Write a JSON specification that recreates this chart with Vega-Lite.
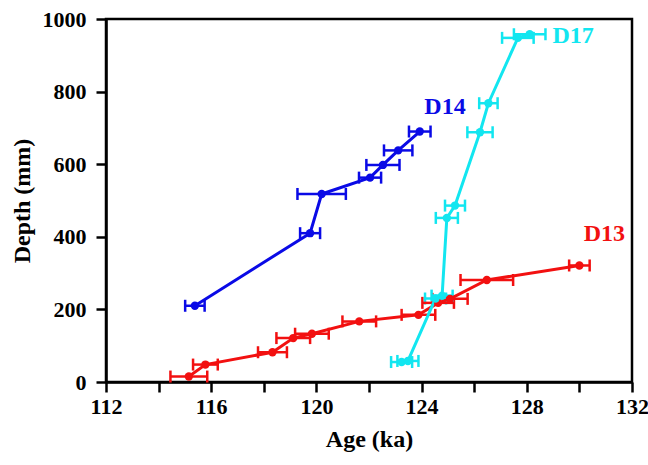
{
  "$schema": "https://vega.github.io/schema/vega-lite/v6.json",
  "autosize": {"type": "none"},
  "width": 526,
  "height": 363,
  "padding": {"left": 106, "top": 19, "right": 16, "bottom": 83},
  "background": "white",
  "config": {
    "view": {"stroke": "black", "strokeWidth": 2.5},
    "axis": {
      "domainColor": "black", "domainWidth": 2.5, "tickColor": "black", "tickWidth": 2.5, "tickSize": 10,
      "labelFont": "Liberation Serif", "labelFontWeight": "bold", "labelFontSize": 22, "labelColor": "black",
      "titleFont": "Liberation Serif", "titleFontWeight": "bold", "titleFontSize": 24, "titleColor": "black",
      "grid": false
    }
  },
  "datasets": {
    "pts": [
      {"s": "D13", "age": 115.15, "depth": 15, "lo": 114.45, "hi": 115.85},
      {"s": "D13", "age": 115.78, "depth": 48, "lo": 115.31, "hi": 116.25},
      {"s": "D13", "age": 118.33, "depth": 82, "lo": 117.78, "hi": 118.88},
      {"s": "D13", "age": 119.12, "depth": 121, "lo": 118.48, "hi": 119.76},
      {"s": "D13", "age": 119.83, "depth": 133, "lo": 119.19, "hi": 120.47},
      {"s": "D13", "age": 121.63, "depth": 167, "lo": 120.99, "hi": 122.27},
      {"s": "D13", "age": 123.88, "depth": 185, "lo": 123.24, "hi": 124.52},
      {"s": "D13", "age": 124.63, "depth": 218, "lo": 124.03, "hi": 125.23},
      {"s": "D13", "age": 125.08, "depth": 229, "lo": 124.41, "hi": 125.75},
      {"s": "D13", "age": 126.48, "depth": 281, "lo": 125.48, "hi": 127.48},
      {"s": "D13", "age": 130.0, "depth": 321, "lo": 129.61, "hi": 130.39},
      {"s": "D14", "age": 115.38, "depth": 210, "lo": 115.01, "hi": 115.75},
      {"s": "D14", "age": 119.76, "depth": 410, "lo": 119.38, "hi": 120.14},
      {"s": "D14", "age": 120.2, "depth": 518, "lo": 119.28, "hi": 121.12},
      {"s": "D14", "age": 122.04, "depth": 563, "lo": 121.62, "hi": 122.46},
      {"s": "D14", "age": 122.53, "depth": 598, "lo": 121.9, "hi": 123.16},
      {"s": "D14", "age": 123.11, "depth": 638, "lo": 122.57, "hi": 123.65},
      {"s": "D14", "age": 123.93, "depth": 690, "lo": 123.52, "hi": 124.34},
      {"s": "D17", "age": 123.24, "depth": 55, "lo": 122.84, "hi": 123.64},
      {"s": "D17", "age": 123.48, "depth": 58, "lo": 123.08, "hi": 123.88},
      {"s": "D17", "age": 124.53, "depth": 230, "lo": 124.13, "hi": 124.93},
      {"s": "D17", "age": 124.78, "depth": 238, "lo": 124.38, "hi": 125.18},
      {"s": "D17", "age": 124.96, "depth": 452, "lo": 124.54, "hi": 125.38},
      {"s": "D17", "age": 125.27, "depth": 486, "lo": 124.89, "hi": 125.65},
      {"s": "D17", "age": 126.22, "depth": 688, "lo": 125.74, "hi": 126.7},
      {"s": "D17", "age": 126.54, "depth": 768, "lo": 126.19, "hi": 126.89},
      {"s": "D17", "age": 127.66, "depth": 948, "lo": 127.06, "hi": 128.26},
      {"s": "D17", "age": 128.11, "depth": 958, "lo": 127.51, "hi": 128.71}
    ],
    "labels": [
      {"s": "D13", "age": 130.95, "depth": 408},
      {"s": "D14", "age": 124.89, "depth": 758},
      {"s": "D17", "age": 129.76, "depth": 952}
    ]
  },
  "layer": [
    {
      "data": {"name": "pts"},
      "mark": {"type": "errorbar", "thickness": 2.5, "opacity": 1, "rule": {"opacity": 1}, "ticks": {"size": 12, "thickness": 2.5, "opacity": 1}},
      "encoding": {
        "x": {"field": "lo", "type": "quantitative", "scale": {"domain": [112, 132], "nice": false, "zero": false},
              "axis": {"title": "Age (ka)", "values": [112,114,116,118,120,122,124,126,128,130,132], "labelExpr": "datum.value % 4 == 0 ? datum.label : ''", "labelPadding": 4, "titlePadding": 10, "labelFlush": false}},
        "x2": {"field": "hi"},
        "y": {"field": "depth", "type": "quantitative", "scale": {"domain": [0, 1000], "nice": false},
              "axis": {"title": "Depth (mm)", "format": "d", "values": [0,100,200,300,400,500,600,700,800,900,1000], "labelExpr": "datum.value % 200 == 0 ? datum.label : ''", "labelPadding": 10, "titlePadding": 8, "labelFlush": false}},
        "color": {"field": "s", "type": "nominal", "scale": {"domain": ["D13", "D14", "D17"], "range": ["#f21010", "#0a0ae6", "#12e6f0"]}, "legend": null}
      }
    },
    {
      "data": {"name": "pts"},
      "mark": {"type": "line", "strokeWidth": 3, "point": {"filled": true, "size": 70, "opacity": 1}},
      "encoding": {
        "x": {"field": "age", "type": "quantitative"},
        "y": {"field": "depth", "type": "quantitative"},
        "color": {"field": "s", "type": "nominal"},
        "order": {"field": "depth", "type": "quantitative"}
      }
    },
    {
      "data": {"name": "labels"},
      "mark": {"type": "text", "font": "Liberation Serif", "fontWeight": "bold", "fontSize": 24, "align": "center", "baseline": "middle"},
      "encoding": {
        "x": {"field": "age", "type": "quantitative"},
        "y": {"field": "depth", "type": "quantitative"},
        "text": {"field": "s"},
        "color": {"field": "s", "type": "nominal"}
      }
    }
  ]
}
